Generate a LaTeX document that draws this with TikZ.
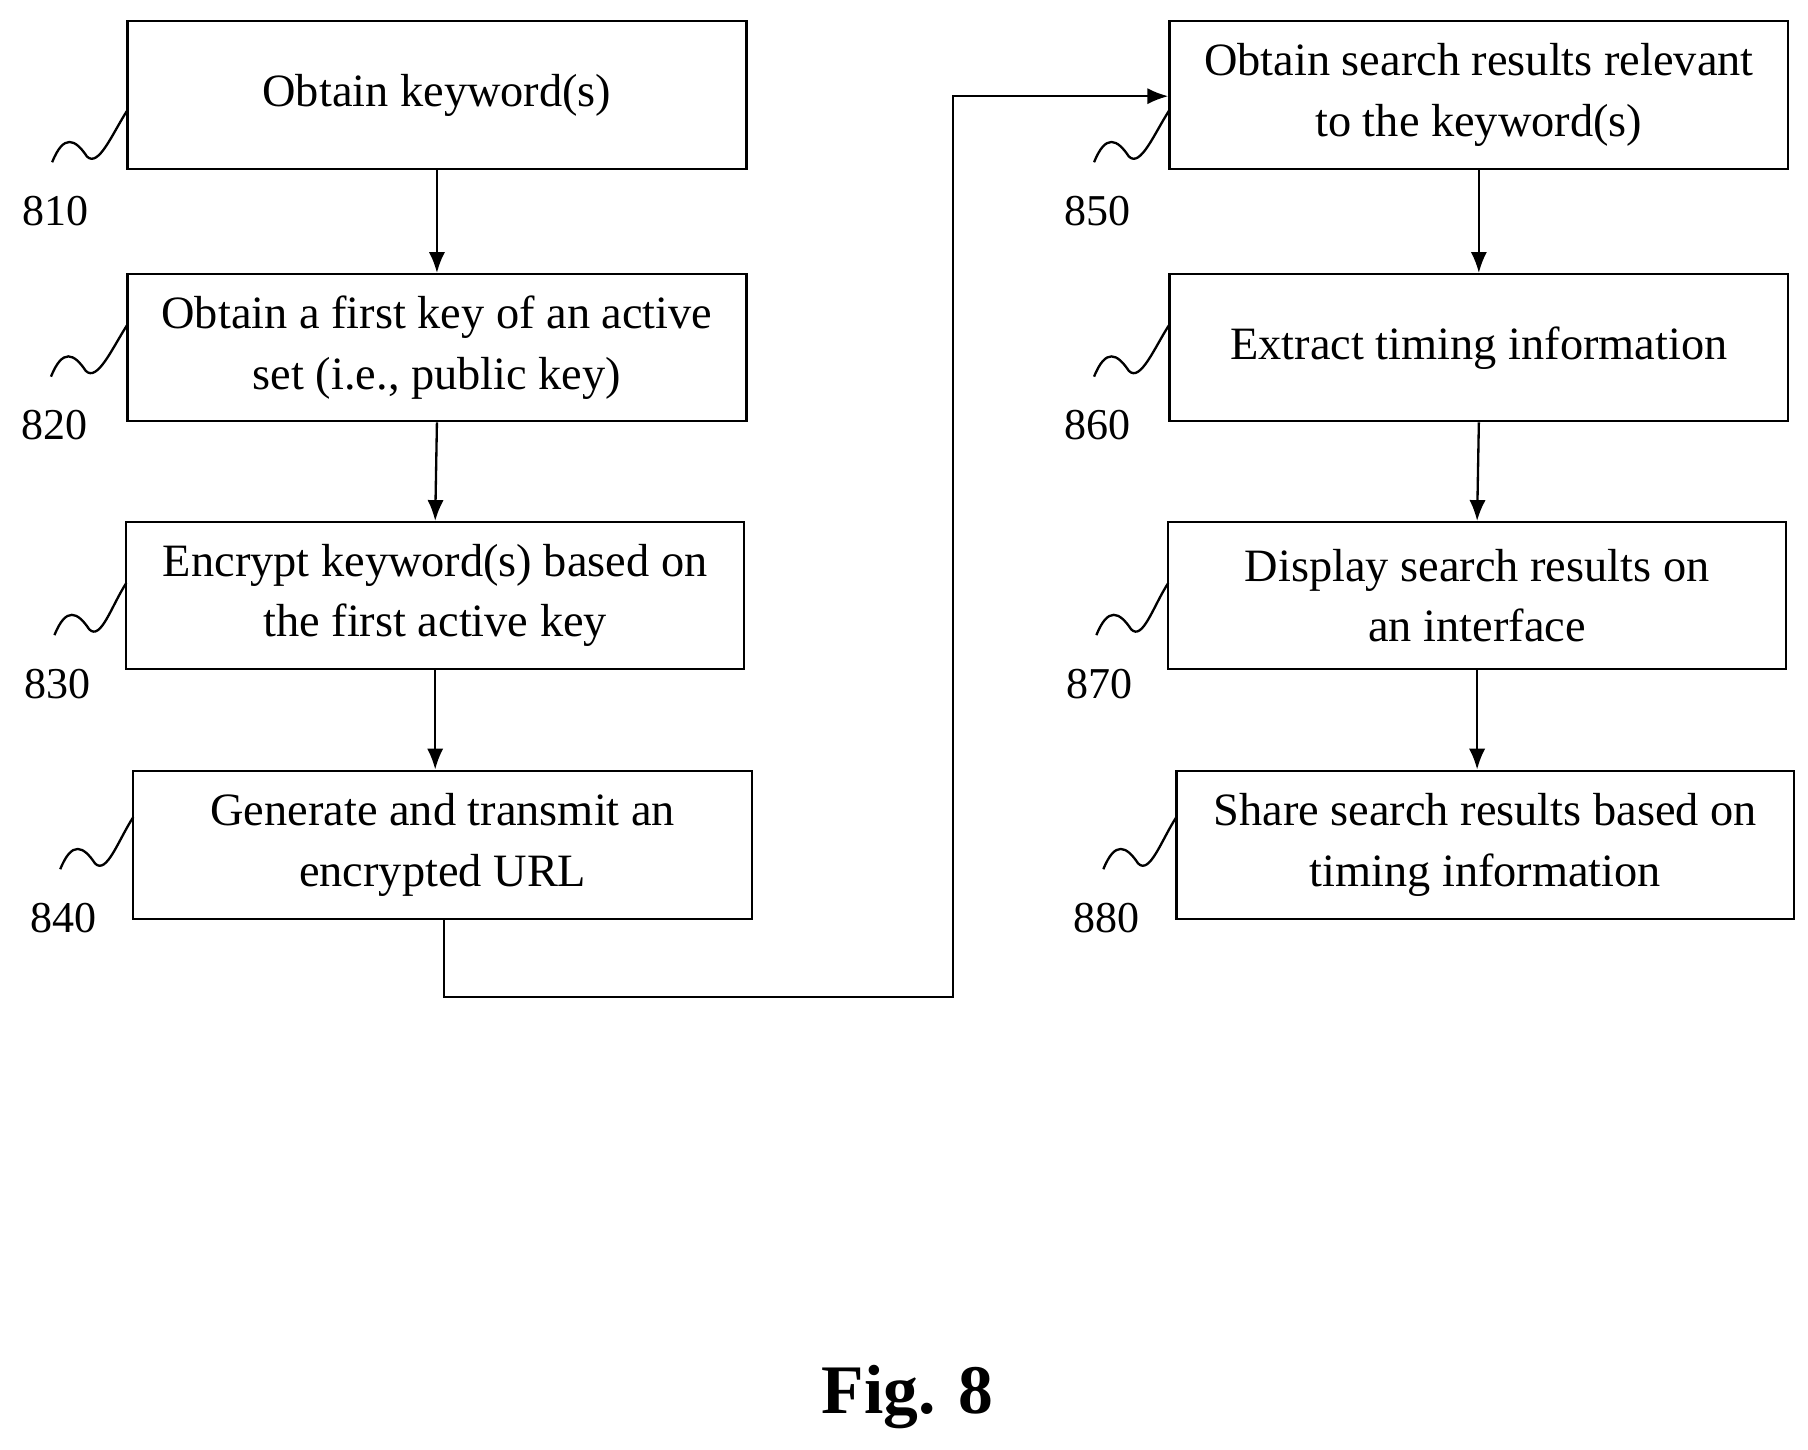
\documentclass[tikz,border=0pt]{standalone}
\usepackage{fontspec}
\setmainfont{Liberation Serif}
\begin{document}
\begin{tikzpicture}[x=1pt,y=-1pt,
  box/.style={draw,line width=2pt,inner sep=0pt,align=center,font=\fontsize{40}{52}\selectfont},
  lab/.style={font=\fontsize{38}{40}\selectfont},
  arr/.style={line width=2pt,-{Latex[length=18pt,width=14pt]}},
  sq/.style={line width=2pt}]
\useasboundingbox (0,0) rectangle (1560,1251);
\usetikzlibrary{arrows.meta}
\def\bx#1#2#3#4#5#6{\node[box,minimum width=#4-#2,minimum height=128] (#1) at ({(#2+#4)/2},{#3+64}) {#6};}
\node[box,minimum width=534,minimum height=128] (b810) at (377,82) {Obtain keyword(s)};
\node[box,minimum width=534,minimum height=127] (b820) at (377,300) {Obtain a first key of an active\\set (i.e., public key)};
\node[box,minimum width=533,minimum height=127] (b830) at (375.5,514) {Encrypt keyword(s) based on\\the first active key};
\node[box,minimum width=534,minimum height=128] (b840) at (382,729) {Generate and transmit an\\encrypted URL};
\node[box,minimum width=534,minimum height=128] (b850) at (1276,82) {Obtain search results relevant\\to the keyword(s)};
\node[box,minimum width=534,minimum height=127] (b860) at (1276,300) {Extract timing information};
\node[box,minimum width=533,minimum height=127] (b870) at (1274.5,514) {Display search results on\\an interface};
\node[box,minimum width=533,minimum height=128] (b880) at (1281.5,729) {Share search results based on\\timing information};
\draw[arr] (b810.south) -- (b820.north);
\draw[arr] (b820.south) -- (b830.north);
\draw[arr] (b830.south) -- (b840.north-|b830.south);
\draw[arr] (b850.south) -- (b860.north);
\draw[arr] (b860.south) -- (b870.north);
\draw[arr] (b870.south) -- (b880.north-|b870.south);
\coordinate (c1) at (383,860);
\coordinate (c2) at (822,860);
\coordinate (c3) at (822,83);
\draw[arr] (b840.south-|c1) -- (c1) -- (c2) -- (c3) -- (b850.west|-c3);
\foreach \n/\lx/\ly/\bxx in {810/48/182/110,820/47/367/110,830/50/590/109,840/55/792/115,850/947/182/1009,860/947/367/1009,870/949/590/1008,880/955/792/1015}{
  \node[lab] (l\n) at (\lx,\ly) {\n};
  \draw[sq] (\lx-3,\ly-42) .. controls (\lx+7,\ly-67) and (\lx+17,\ly-62) .. (\lx+27,\ly-47) .. controls (\lx+37,\ly-37) and (\bxx-13,\ly-67) .. (\bxx,\ly-87);
}
\node[font=\bfseries\fontsize{60}{60}\selectfont] (fig) at (783,1205) {Fig. 8};
\end{tikzpicture}
\end{document}
